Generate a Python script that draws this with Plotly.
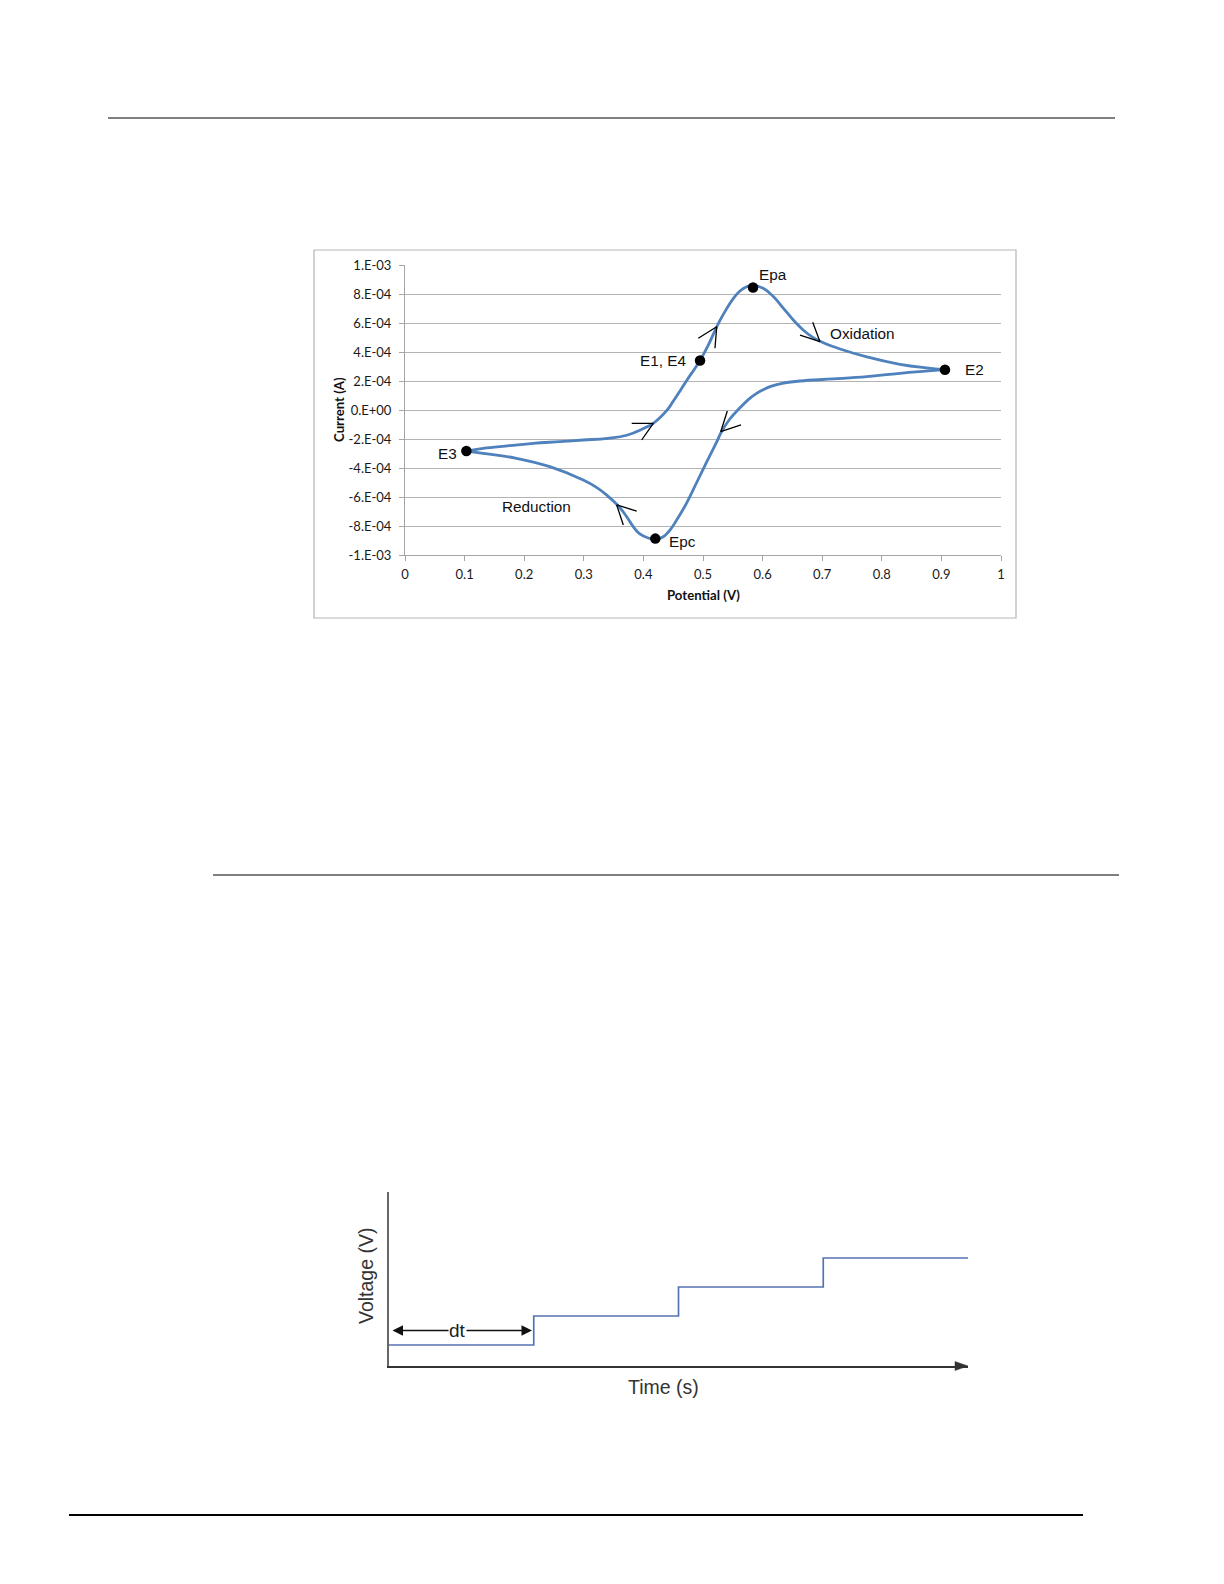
import plotly.graph_objects as go

W, H = 1224, 1584

# ---------------- Cyclic voltammogram data ----------------
# forward sweep: E3 -> E1/E4 -> Epa -> E2
fwd_potential = [0.103, 0.131, 0.175, 0.215, 0.260, 0.299, 0.340, 0.372, 0.400, 0.4166,
                 0.428, 0.439, 0.450, 0.462, 0.474, 0.485, 0.495, 0.508, 0.5215, 0.5285,
                 0.540, 0.551, 0.562, 0.5733, 0.5844, 0.601, 0.618, 0.635, 0.6515, 0.668,
                 0.685, 0.702, 0.730, 0.775, 0.8305, 0.875, 0.906]
fwd_current = [-2.83e-4, -2.64e-4, -2.46e-4, -2.30e-4, -2.18e-4, -2.07e-4, -1.95e-4, -1.74e-4, -1.28e-4, -0.92e-4,
               -0.52e-4, -0.05e-4, 0.60e-4, 1.35e-4, 2.12e-4, 2.78e-4, 3.41e-4, 4.40e-4, 5.60e-4, 6.18e-4,
               7.01e-4, 7.70e-4, 8.21e-4, 8.50e-4, 8.60e-4, 8.39e-4, 7.82e-4, 7.01e-4, 6.21e-4, 5.52e-4,
               4.99e-4, 4.64e-4, 4.21e-4, 3.66e-4, 3.15e-4, 2.90e-4, 2.78e-4]

# reverse sweep: E2 -> Epc -> E3
rev_potential = [0.906, 0.8305, 0.775, 0.7186, 0.663, 0.635, 0.615, 0.601, 0.590, 0.579,
                 0.562, 0.545, 0.531, 0.523, 0.506, 0.4894, 0.4727, 0.4558, 0.4446, 0.4334,
                 0.420, 0.408, 0.394, 0.383, 0.372, 0.358, 0.338, 0.320, 0.299, 0.243,
                 0.187, 0.131, 0.103]
rev_current = [2.78e-4, 2.53e-4, 2.30e-4, 2.14e-4, 2.00e-4, 1.85e-4, 1.65e-4, 1.40e-4, 1.15e-4, 0.82e-4,
               0.15e-4, -0.62e-4, -1.50e-4, -2.20e-4, -3.60e-4, -5.00e-4, -6.40e-4, -7.59e-4, -8.28e-4, -8.74e-4,
               -8.92e-4, -8.83e-4, -8.55e-4, -8.05e-4, -7.36e-4, -6.62e-4, -5.85e-4, -5.30e-4, -4.83e-4, -3.91e-4,
               -3.33e-4, -2.99e-4, -2.83e-4]

# key points
key_labels = ["E1, E4", "Epa", "E2", "E3", "Epc"]
key_potential = [0.495, 0.584, 0.906, 0.103, 0.420]
key_current = [3.41e-4, 8.45e-4, 2.78e-4, -2.83e-4, -8.87e-4]

# direction chevrons: (tip, arm1, arm2) in data units
arrow_potential = [[0.4166, 0.3804, 0.3971], [0.5230, 0.4921, 0.5201], [0.6963, 0.6628, 0.6841],
                   [0.5297, 0.5408, 0.5638], [0.3552, 0.3888, 0.3663]]
arrow_current = [[-0.917e-4, -0.917e-4, -2.069e-4], [5.745e-4, 4.945e-4, 4.255e-4], [4.71e-4, 5.17e-4, 6.05e-4],
                 [-1.497e-4, -0.069e-4, -1.034e-4], [-6.55e-4, -6.97e-4, -7.93e-4]]

y_tickvals = [1e-3, 8e-4, 6e-4, 4e-4, 2e-4, 0.0, -2e-4, -4e-4, -6e-4, -8e-4, -1e-3]
y_ticktext = ["1.E-03", "8.E-04", "6.E-04", "4.E-04", "2.E-04", "0.E+00",
              "-2.E-04", "-4.E-04", "-6.E-04", "-8.E-04", "-1.E-03"]

# ---------------- Staircase data ----------------
step_time = [0, 1, 2, 3, 4]
step_voltage = [1, 2, 3, 4, 4]


def px(x):
    return x / W


def py(y):
    return 1 - y / H


fig = go.Figure()

CURVE = "#4F81BD"
fig.add_trace(go.Scatter(x=fwd_potential, y=fwd_current, mode="lines",
                         line=dict(color=CURVE, width=2.8, shape="spline", smoothing=1.2),
                         xaxis="x", yaxis="y", showlegend=False, hoverinfo="skip"))
fig.add_trace(go.Scatter(x=rev_potential, y=rev_current, mode="lines",
                         line=dict(color=CURVE, width=2.8, shape="spline", smoothing=1.2),
                         xaxis="x", yaxis="y", showlegend=False, hoverinfo="skip"))

for ap, ac in zip(arrow_potential, arrow_current):
    fig.add_trace(go.Scatter(x=[ap[1], ap[0], ap[2]], y=[ac[1], ac[0], ac[2]], mode="lines",
                             line=dict(color="black", width=1.3),
                             xaxis="x", yaxis="y", showlegend=False, hoverinfo="skip"))

fig.add_trace(go.Scatter(x=key_potential, y=key_current, mode="markers",
                         marker=dict(color="black", size=10.5),
                         xaxis="x", yaxis="y", showlegend=False, hoverinfo="skip"))

fig.add_trace(go.Scatter(x=step_time, y=step_voltage, mode="lines",
                         line=dict(color="#5573b3", width=1.7, shape="hv"),
                         xaxis="x2", yaxis="y2", showlegend=False, hoverinfo="skip"))

LABEL_FONT = dict(family="Liberation Sans, Arial", size=15.3, color="#111111")
annotations = []
label_offsets = {
    "E1, E4": dict(xanchor="right", xshift=-12, yshift=0),
    "Epa": dict(xanchor="left", xshift=4, yshift=13),
    "E2": dict(xanchor="left", xshift=18, yshift=0),
    "E3": dict(xanchor="right", xshift=-7, yshift=-2.5),
    "Epc": dict(xanchor="left", xshift=12, yshift=-2.5),
}
for lab, xp, yc in zip(key_labels, key_potential, key_current):
    o = label_offsets[lab]
    annotations.append(dict(x=xp, y=yc, xref="x", yref="y", text=lab, showarrow=False,
                            xanchor=o["xanchor"], yanchor="middle", xshift=o["xshift"],
                            yshift=o["yshift"], font=LABEL_FONT))
annotations.append(dict(x=0.768, y=5.25e-4, xref="x", yref="y", text="Oxidation", showarrow=False,
                        xanchor="center", yanchor="middle", font=LABEL_FONT))
annotations.append(dict(x=0.2198, y=-6.65e-4, xref="x", yref="y", text="Reduction", showarrow=False,
                        xanchor="center", yanchor="middle", font=LABEL_FONT))

TITLE_FONT = dict(family="Lato", size=13.2, color="#111111")
annotations.append(dict(x=px(339), y=py(410), xref="paper", yref="paper", text="<b>Current (A)</b>",
                        textangle=-90, showarrow=False, xanchor="center", yanchor="middle",
                        font=TITLE_FONT))
annotations.append(dict(x=px(703), y=py(595), xref="paper", yref="paper", text="<b>Potential (V)</b>",
                        showarrow=False, xanchor="center", yanchor="middle", font=TITLE_FONT))

# staircase annotations
annotations.append(dict(x=0.988, y=1.5, ax=0.014, ay=1.5, xref="x2", yref="y2", axref="x2", ayref="y2",
                        text="", showarrow=True, arrowside="end+start", arrowhead=2, startarrowhead=2,
                        arrowsize=1.4, startarrowsize=1.4, arrowwidth=1.5, arrowcolor="#111111"))
annotations.append(dict(x=0.47, y=1.5, xref="x2", yref="y2", text="dt", showarrow=False,
                        bgcolor="white", borderpad=0, xanchor="center", yanchor="middle",
                        font=dict(family="Liberation Sans, Arial", size=19, color="#222222")))
annotations.append(dict(x=px(366), y=py(1276), xref="paper", yref="paper", text="Voltage (V)",
                        textangle=-90, showarrow=False, xanchor="center", yanchor="middle",
                        font=dict(family="Liberation Sans, Arial", size=19.5, color="#333333")))
annotations.append(dict(x=px(663), y=py(1387), xref="paper", yref="paper", text="Time (s)",
                        showarrow=False, xanchor="center", yanchor="middle",
                        font=dict(family="Liberation Sans, Arial", size=19.5, color="#333333")))

shapes = [
    # page rules
    dict(type="line", xref="paper", yref="paper", x0=px(108), x1=px(1115), y0=py(118), y1=py(118),
         line=dict(color="black", width=1)),
    dict(type="line", xref="paper", yref="paper", x0=px(213), x1=px(1119), y0=py(875), y1=py(875),
         line=dict(color="black", width=1)),
    dict(type="line", xref="paper", yref="paper", x0=px(69), x1=px(1083), y0=py(1515), y1=py(1515),
         line=dict(color="black", width=2)),
    # chart frame
    dict(type="rect", xref="paper", yref="paper", x0=px(314), x1=px(1016), y0=py(618), y1=py(250),
         line=dict(color="#b5b5b5", width=1.2), layer="below"),
    # time-axis arrowhead
    dict(type="path", xref="paper", yref="paper",
         path=f"M {px(968)},{py(1366)} L {px(955)},{py(1361.5)} L {px(955)},{py(1370.5)} Z",
         fillcolor="#333333", line=dict(color="#333333", width=0.5)),
]

TICK_FONT = dict(family="Lato", size=13, color="#1a1a1a")
AX = "#a6a6a6"
fig.update_layout(
    width=W, height=H, margin=dict(l=0, r=0, t=0, b=0),
    paper_bgcolor="white", plot_bgcolor="white", template="none",
    showlegend=False,
    xaxis=dict(domain=[px(405), px(1001)], range=[0, 1], dtick=0.1, tick0=0, anchor="y",
               ticks="outside", ticklen=5, tickcolor=AX, showline=True, linecolor=AX, linewidth=1,
               showgrid=False, zeroline=False, tickfont=TICK_FONT, ticklabelstandoff=2),
    yaxis=dict(domain=[py(555), py(265)], range=[-1e-3, 1e-3], anchor="x",
               tickvals=y_tickvals, ticktext=y_ticktext,
               ticks="outside", ticklen=5, tickcolor=AX, showline=True, linecolor=AX, linewidth=1,
               showgrid=True, gridcolor="#b3b3b3", gridwidth=1, zeroline=False, tickfont=TICK_FONT,
               ticklabelstandoff=5),
    xaxis2=dict(domain=[px(389), px(968)], range=[0, 4], anchor="y2", showgrid=False, zeroline=False,
                showticklabels=False, ticks="", showline=True, linecolor="#333333", linewidth=2),
    yaxis2=dict(domain=[py(1366), py(1192)], range=[0.276, 6.276], anchor="x2", showgrid=False,
                zeroline=False, showticklabels=False, ticks="", showline=True, linecolor="#666666",
                linewidth=2),
    annotations=annotations,
    shapes=shapes,
)

fig.write_html("out.html", config={"displayModeBar": False},
               post_script="document.body.style.margin='0';")
